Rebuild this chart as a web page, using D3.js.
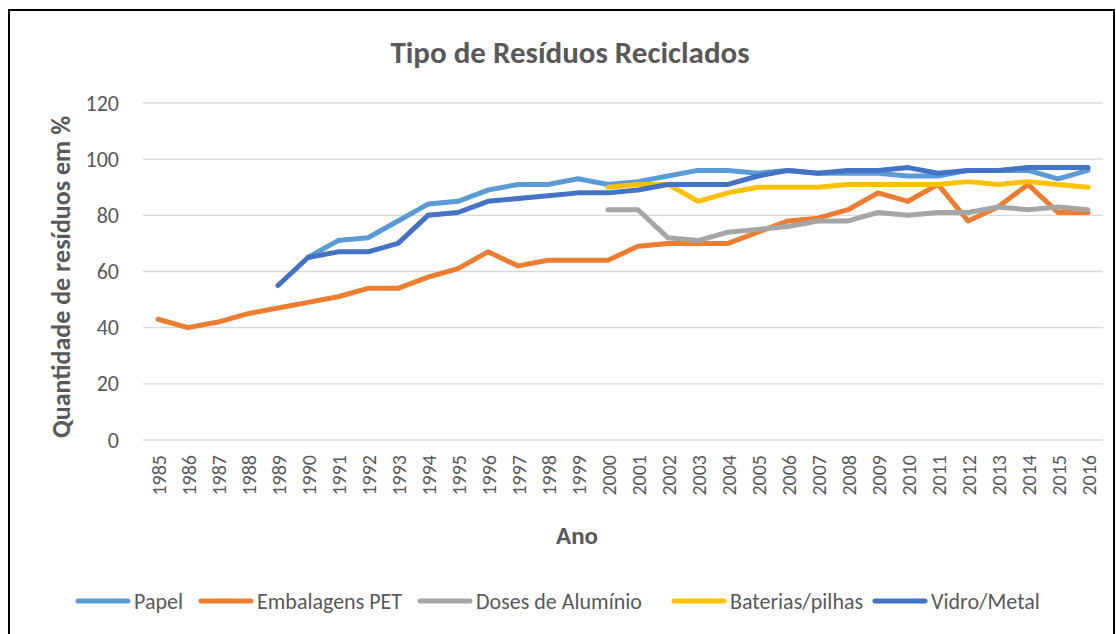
<!DOCTYPE html>
<html>
<head>
<meta charset="utf-8">
<script src="https://cdn.jsdelivr.net/npm/d3@7"></script>
<style>
  body { margin: 0; background: #fff; }
  svg { display: block; font-family: Carlito, Lato, "Open Sans", sans-serif; }
</style>
</head>
<body>
<svg id="chart" width="1116" height="634"></svg>
<script>
const years = d3.range(1985, 2017);

// values, null where the series has no point
const papel = [null, null, null, null, null, 65, 71, 72, 78, 84, 85, 89, 91, 91, 93, 91,
  92, 94, 96, 96, 95, 96, 95, 95, 95, 94, 94, 96, 96, 96, 93, 96];
const embalagensPET = [43, 40, 42, 45, 47, 49, 51, 54, 54, 58, 61, 67, 62, 64, 64, 64,
  69, 70, 70, 70, 74, 78, 79, 82, 88, 85, 91, 78, 83, 91, 81, 81];
const dosesAluminio = [null, null, null, null, null, null, null, null, null, null, null, null, null, null, null, 82,
  82, 72, 71, 74, 75, 76, 78, 78, 81, 80, 81, 81, 83, 82, 83, 82];
const baterias = [null, null, null, null, null, null, null, null, null, null, null, null, null, null, null, 90,
  91, 91, 85, 88, 90, 90, 90, 91, 91, 91, 91, 92, 91, 92, 91, 90];
const vidroMetal = [null, null, null, null, 55, 65, 67, 67, 70, 80, 81, 85, 86, 87, 88, 88,
  89, 91, 91, 91, 94, 96, 95, 96, 96, 97, 95, 96, 96, 97, 97, 97];

const seriesNames = ["Papel", "Embalagens PET", "Doses de Alumínio", "Baterias/pilhas", "Vidro/Metal"];
const seriesColors = ["#5B9BD5", "#ED7D31", "#A5A5A5", "#FFC000", "#4472C4"];
const yTicks = [0, 20, 40, 60, 80, 100, 120];

const series = [papel, embalagensPET, dosesAluminio, baterias, vidroMetal].map((vals, i) => ({
  name: seriesNames[i],
  color: seriesColors[i],
  values: vals.map((v, j) => ({ year: years[j], value: v }))
}));

const svg = d3.select("#chart");
const textColor = "#595959";

// outer border of the chart area
svg.append("rect")
  .attr("x", 9).attr("y", 10)
  .attr("width", 1105).attr("height", 640)
  .attr("fill", "none")
  .attr("stroke", "#000")
  .attr("stroke-width", 2);

const plot = { left: 143, right: 1103, top: 103, bottom: 440 };

const x = d3.scalePoint()
  .domain(years)
  .range([plot.left, plot.right])
  .padding(0.5);

const y = d3.scaleLinear()
  .domain([0, 120])
  .range([plot.bottom, plot.top]);

// horizontal gridlines
svg.append("g")
  .selectAll("line")
  .data(yTicks)
  .join("line")
  .attr("x1", plot.left).attr("x2", plot.right)
  .attr("y1", d => y(d)).attr("y2", d => y(d))
  .attr("stroke", "#d9d9d9")
  .attr("stroke-width", 1.3);

// y axis labels
const yAxis = svg.append("g")
  .attr("transform", `translate(${plot.left},0)`)
  .call(d3.axisLeft(y).tickValues(yTicks).tickSize(0).tickPadding(24));
yAxis.select(".domain").remove();
yAxis.selectAll("text")
  .attr("fill", textColor)
  .style("font-size", "22px")
  .style("font-family", "Carlito, Lato, sans-serif");

// x axis labels, rotated
const xAxis = svg.append("g")
  .attr("transform", `translate(0,${plot.bottom})`)
  .call(d3.axisBottom(x).tickSize(0).tickPadding(0));
xAxis.select(".domain").remove();
xAxis.selectAll("text")
  .attr("fill", textColor)
  .style("font-size", "20px")
  .style("font-family", "Carlito, Lato, sans-serif")
  .attr("text-anchor", "end")
  .attr("dy", "0.35em")
  .attr("transform", "translate(0,15) rotate(-90)");

// lines
const line = d3.line()
  .defined(d => d.value !== null)
  .x(d => x(d.year))
  .y(d => y(d.value));

svg.append("g")
  .selectAll("path")
  .data(series)
  .join("path")
  .attr("d", d => line(d.values))
  .attr("fill", "none")
  .attr("stroke", d => d.color)
  .attr("stroke-width", 5)
  .attr("stroke-linejoin", "round")
  .attr("stroke-linecap", "round");

// title and axis titles
svg.append("text")
  .attr("x", 570).attr("y", 63)
  .attr("text-anchor", "middle")
  .attr("fill", textColor)
  .style("font-size", "31px")
  .style("font-weight", "bold")
  .text("Tipo de Resíduos Reciclados");

svg.append("text")
  .attr("transform", "translate(70,277) rotate(-90)")
  .attr("text-anchor", "middle")
  .attr("fill", textColor)
  .style("font-size", "26px")
  .style("font-weight", "bold")
  .text("Quantidade de resíduos em %");

svg.append("text")
  .attr("x", 577).attr("y", 544)
  .attr("text-anchor", "middle")
  .attr("fill", textColor)
  .style("font-size", "25px")
  .style("font-weight", "bold")
  .text("Ano");

// legend
const legendX = [76, 199, 418, 672, 873];
const legend = svg.append("g")
  .selectAll("g")
  .data(series)
  .join("g")
  .attr("transform", (d, i) => `translate(${legendX[i]},601)`);

legend.append("line")
  .attr("x1", 2).attr("x2", 52)
  .attr("stroke", d => d.color)
  .attr("stroke-width", 5)
  .attr("stroke-linecap", "round");

legend.append("text")
  .attr("x", 58).attr("dy", "0.35em")
  .attr("fill", textColor)
  .style("font-size", "22px")
  .text(d => d.name);
</script>
</body>
</html>
